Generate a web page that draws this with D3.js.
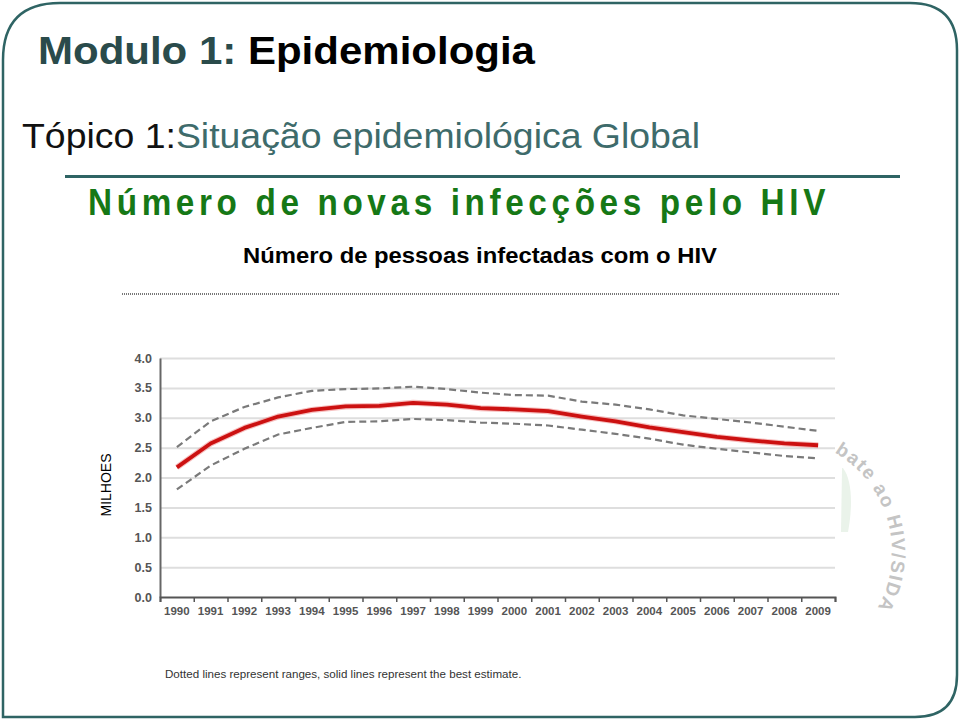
<!DOCTYPE html>
<html>
<head>
<meta charset="utf-8">
<script src="https://cdn.jsdelivr.net/npm/d3@7"></script>
<style>
  html, body { margin: 0; padding: 0; background: #fff; }
  svg { display: block; }
</style>
</head>
<body>
<svg id="chart" width="960" height="720"></svg>
<script>
// data (millions)
const years = d3.range(1990, 2010).map(String);
const bestEstimate = [2.17, 2.57, 2.83, 3.02, 3.13, 3.19, 3.20, 3.25, 3.22, 3.16,
  3.14, 3.11, 3.02, 2.94, 2.84, 2.76, 2.68, 2.62, 2.57, 2.54];
const upperRange = [2.51, 2.94, 3.18, 3.34, 3.45, 3.48, 3.49, 3.52, 3.48, 3.42,
  3.38, 3.37, 3.27, 3.22, 3.14, 3.04, 2.98, 2.92, 2.85, 2.78];
const lowerRange = [1.80, 2.20, 2.48, 2.72, 2.83, 2.93, 2.94, 2.98, 2.96, 2.92,
  2.90, 2.87, 2.80, 2.73, 2.65, 2.55, 2.48, 2.42, 2.36, 2.32];
const yTicks = [0, 0.5, 1, 1.5, 2, 2.5, 3, 3.5, 4];

const svg = d3.select('#chart');
const teal = '#2f6464';

// slide frame
svg.append('path')
  .attr('d', 'M3,60 Q3,3 60,3 L910,3 Q957,3 957,50 L957,675 Q957,717 915,717 L3,717 Z')
  .attr('fill', 'none')
  .attr('stroke', teal)
  .attr('stroke-width', 2.5);

// heading
const h1 = svg.append('text')
  .attr('x', 38).attr('y', 64)
  .attr('font-family', '"Liberation Sans Narrow", "Liberation Sans", Arial, sans-serif')
  .attr('font-weight', 'bold')
  .attr('font-size', 39)
  .attr('textLength', 497)
  .attr('lengthAdjust', 'spacingAndGlyphs');
h1.append('tspan').attr('fill', '#2a4b4b').text('Modulo 1: ');
h1.append('tspan').attr('fill', '#000').text('Epidemiologia');

const h2 = svg.append('text')
  .attr('x', 22).attr('y', 148)
  .attr('font-family', '"Liberation Sans Narrow", "Liberation Sans", Arial, sans-serif')
  .attr('font-size', 35)
  .attr('textLength', 678)
  .attr('lengthAdjust', 'spacingAndGlyphs');
h2.append('tspan').attr('fill', '#111').text('Tópico 1:');
h2.append('tspan').attr('fill', '#3e6b6b').text('Situação epidemiológica Global');

svg.append('line')
  .attr('x1', 65).attr('x2', 900)
  .attr('y1', 176.5).attr('y2', 176.5)
  .attr('stroke', teal).attr('stroke-width', 3);

svg.append('text')
  .attr('x', 88).attr('y', 215)
  .attr('font-family', '"Liberation Sans", Arial, sans-serif')
  .attr('font-weight', 'bold')
  .attr('font-size', 36)
  .attr('letter-spacing', 5)
  .attr('fill', '#167816')
  .attr('textLength', 742)
  .attr('lengthAdjust', 'spacingAndGlyphs')
  .text('Número de novas infecções pelo HIV');

svg.append('text')
  .attr('x', 243).attr('y', 263)
  .attr('font-family', '"Liberation Sans", Arial, sans-serif')
  .attr('font-weight', 'bold')
  .attr('font-size', 22.5)
  .attr('fill', '#000')
  .attr('textLength', 474)
  .attr('lengthAdjust', 'spacingAndGlyphs')
  .text('Número de pessoas infectadas com o HIV');

svg.append('line')
  .attr('x1', 122).attr('x2', 840)
  .attr('y1', 294).attr('y2', 294)
  .attr('stroke', '#777').attr('stroke-width', 2)
  .attr('stroke-dasharray', '1,1');

// chart
const plotLeft = 160, plotRight = 835, plotTop = 358, plotBottom = 597;

const x = d3.scaleBand().domain(years).range([plotLeft, plotRight]);
const xEdge = d3.scaleLinear().domain([0, years.length]).range([plotLeft, plotRight]);
const y = d3.scaleLinear().domain([0, 4]).range([plotBottom, plotTop]);

// gridlines
svg.append('g')
  .attr('transform', `translate(${plotLeft},0)`)
  .call(d3.axisLeft(y).tickValues(yTicks.slice(1)).tickSize(-(plotRight - plotLeft)).tickFormat(''))
  .call(g => g.select('.domain').remove())
  .call(g => g.selectAll('line').attr('stroke', '#dedede').attr('stroke-width', 2));

// y labels
svg.append('g')
  .attr('transform', `translate(${plotLeft},0)`)
  .call(d3.axisLeft(y).tickValues(yTicks).tickSize(0).tickPadding(8).tickFormat(d3.format('.1f')))
  .call(g => g.select('.domain').attr('stroke', '#666').attr('stroke-width', 2))
  .call(g => g.selectAll('text')
    .attr('font-family', '"Liberation Sans", Arial, sans-serif')
    .attr('font-size', 12.5)
    .attr('font-weight', 'bold')
    .attr('fill', '#555'));

// x tick marks at band edges
svg.append('g')
  .attr('transform', `translate(0,${plotBottom})`)
  .call(d3.axisBottom(xEdge).tickValues(d3.range(years.length + 1)).tickSize(5).tickFormat(''))
  .call(g => g.select('.domain').attr('stroke', '#555').attr('stroke-width', 2))
  .call(g => g.selectAll('line').attr('stroke', '#555').attr('stroke-width', 1.5));

// x labels
svg.append('g')
  .attr('transform', `translate(0,${plotBottom})`)
  .call(d3.axisBottom(x).tickSize(0).tickPadding(10))
  .call(g => g.select('.domain').remove())
  .call(g => g.selectAll('text')
    .attr('font-family', '"Liberation Sans", Arial, sans-serif')
    .attr('font-size', 11.5)
    .attr('font-weight', 'bold')
    .attr('fill', '#555'));

const line = d3.line()
  .x((d, i) => x(years[i]) + x.bandwidth() / 2)
  .y(d => y(d));

[upperRange, lowerRange].forEach(s => {
  svg.append('path')
    .attr('d', line(s))
    .attr('fill', 'none')
    .attr('stroke', '#7a7a7a')
    .attr('stroke-width', 2.2)
    .attr('stroke-dasharray', '7,4');
});

svg.append('path')
  .attr('d', line(bestEstimate))
  .attr('fill', 'none')
  .attr('stroke', '#f08080')
  .attr('stroke-opacity', 0.5)
  .attr('stroke-width', 6)
  .attr('stroke-linejoin', 'round');
svg.append('path')
  .attr('d', line(bestEstimate))
  .attr('fill', 'none')
  .attr('stroke', '#cc1111')
  .attr('stroke-width', 3.8)
  .attr('stroke-linejoin', 'round');

// y axis title
svg.append('text')
  .attr('transform', 'translate(111,485) rotate(-90)')
  .attr('text-anchor', 'middle')
  .attr('font-family', '"Liberation Sans", Arial, sans-serif')
  .attr('font-size', 14)
  .attr('fill', '#000')
  .text('MILHOES');

// footnote
svg.append('text')
  .attr('x', 165).attr('y', 678)
  .attr('font-family', '"Liberation Sans", Arial, sans-serif')
  .attr('font-size', 11.6)
  .attr('fill', '#333')
  .text('Dotted lines represent ranges, solid lines represent the best estimate.');

// watermark on an arc
svg.append('defs').append('path')
  .attr('id', 'arc2')
  .attr('d', () => {
    const r = 115, a0 = -62 * Math.PI / 180, a1 = 50 * Math.PI / 180;
    return `M${r * Math.cos(a0)},${r * Math.sin(a0)} A${r},${r} 0 0 1 ${r * Math.cos(a1)},${r * Math.sin(a1)}`;
  });
svg.append('path')
  .attr('d', 'M843,468 C852,480 853,505 848,532 L841,532 L842,468 Z')
  .attr('fill', '#eaf3ea');
svg.append('text')
  .attr('transform', 'translate(777,552)')
  .attr('font-family', '"Liberation Sans", Arial, sans-serif')
  .attr('font-weight', 'bold')
  .attr('font-size', 19)
  .attr('letter-spacing', 1.6)
  .attr('fill', '#c4c4c4')
  .append('textPath')
  .attr('href', '#arc2')
  .attr('startOffset', 4)
  .text('bate ao HIV/SIDA');
</script>
</body>
</html>
